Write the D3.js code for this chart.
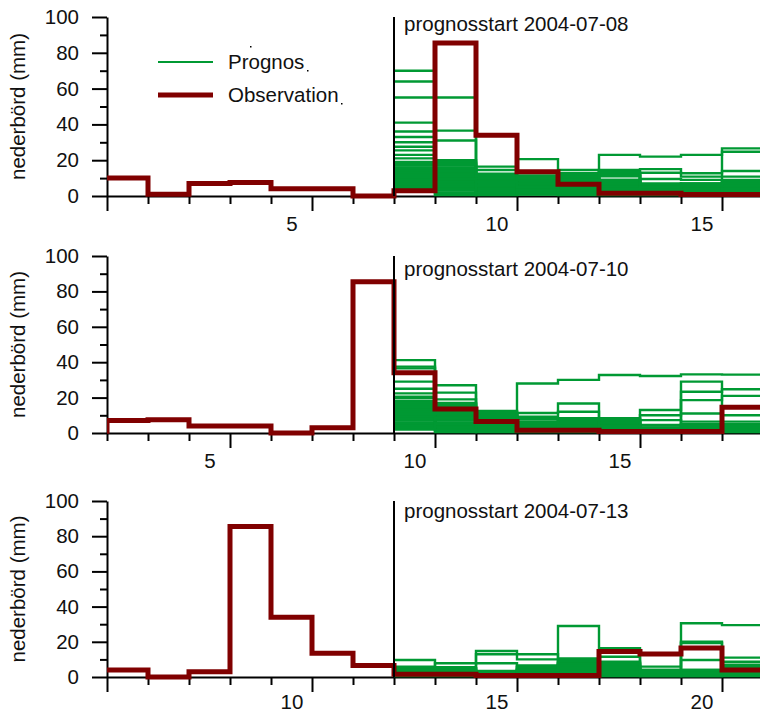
<!DOCTYPE html>
<html>
<head>
<meta charset="utf-8">
<script src="https://cdn.jsdelivr.net/npm/d3@7"></script>
<style>
  body { margin: 0; background: #fff; }
  svg text { font-family: "Liberation Sans", Arial, sans-serif; fill: #111; }
</style>
</head>
<body>
<div id="chart"></div>
<script>
// observed daily precipitation (mm), July 2004, day 1..21
const obsDays = [1, 2, 3, 4, 5, 6, 7, 8, 9, 10, 11, 12, 13, 14, 15, 16, 17, 18, 19, 20, 21];
const obsValues = [10, 1, 7, 7.5, 4, 4, 0, 3, 85.5, 34, 13.5, 6.5, 1.5, 1.5, 0.8, 0.8, 0.8, 14.5, 13, 16.5, 4];

// ensemble members, one row per member, one value per day from forecast start
const ens0708 = [ // days 8..16
  [70, 18, 6, 3, 2, 4, 3, 5, 7],
  [64, 36.5, 10, 5, 3, 12, 6, 4, 5],
  [55, 55, 12, 8, 4, 6, 2, 3, 2],
  [41, 31, 9, 4, 6, 8, 4, 6, 24.7],
  [36, 20, 16.4, 20.6, 14.5, 9, 5, 2, 4],
  [33, 15, 14.5, 11, 12.8, 23, 22, 23, 26.6],
  [30, 13, 8, 6, 5, 14.5, 15, 12.7, 14],
  [27.5, 11, 5, 9, 8, 7, 13, 10.8, 10.8],
  [25.5, 17, 11, 2, 1, 3, 9.5, 9, 9],
  [23, 9, 4, 7, 3, 11, 7, 1, 6],
  [21, 6, 3, 10, 7, 2, 1, 7, 3],
  [19, 16, 7, 1, 9, 13, 2, 5, 8],
  [18, 19, 2, 3, 5, 5, 4, 3, 1],
  [17, 10, 12.5, 11.5, 10, 12, 6, 6, 5],
  [16, 8, 6, 5, 6, 1, 3, 2, 7],
  [15, 14, 1, 4, 2, 9, 5, 4, 2],
  [14, 5, 9, 8, 11, 6, 1, 1, 4],
  [13, 12, 3, 2, 4, 4, 3, 5, 6],
  [12, 7, 10, 6, 1, 8, 2, 3, 3],
  [11, 4, 5, 9, 8, 11.5, 4, 6, 1],
  [10, 18, 2, 1, 3, 3, 6, 7, 5],
  [9, 3, 7, 7, 6, 2, 5, 2, 8],
  [8, 2, 4, 3, 2, 7, 1, 4, 2],
  [7, 1, 1, 1, 1, 1, 2, 1, 3],
  [6, 0.5, 11.5, 10, 12, 5, 3, 3, 6],
  [5, 9.5, 6, 2, 7, 13.5, 4, 2, 4],
  [4, 6.5, 0.5, 4, 0.5, 0.5, 0.5, 0.5, 0.5],
  [3, 3.5, 8, 5, 9, 4, 5, 6, 7]
];

const ens0710 = [ // days 10..18
  [5, 3, 6, 28, 30, 32.8, 32.2, 33.1, 33],
  [41.2, 27, 8, 6, 3, 2, 1, 29, 14.9],
  [37.5, 22.8, 12.4, 4, 2, 4, 2, 23.3, 24.7],
  [36.5, 10, 6, 11.3, 16.7, 5, 13, 18.6, 21],
  [29, 19, 4, 3, 5, 3, 10, 11, 10],
  [25, 15, 10, 9.2, 12, 7, 7.3, 6.4, 6.4],
  [22.4, 17, 11, 7.9, 8.3, 8.4, 4.5, 4, 5],
  [19.6, 12, 2, 2, 6, 6, 3, 2, 3],
  [18, 8, 9, 5, 4, 1, 2, 5, 1],
  [17, 14, 5, 6.5, 7, 8, 1, 3, 4],
  [16, 6, 12, 1, 1, 2, 3, 1, 2],
  [15, 4, 3, 3, 3, 4, 0.5, 4, 5],
  [14, 16, 7, 2, 5, 3, 2, 2, 3],
  [13, 13, 1, 4, 8, 7, 1, 1, 1],
  [12, 9, 10, 5, 2, 6, 2, 3, 4],
  [11, 11, 6, 1, 6, 1, 0.5, 2, 2],
  [10, 7, 9, 3, 4, 5, 1, 5, 5],
  [9, 2, 3, 6, 1, 2, 2, 0.5, 1],
  [8, 5, 11.5, 2, 7, 3, 3, 3, 3],
  [7, 3, 4, 5, 3, 4, 1, 4, 2],
  [6, 1, 8, 4, 2, 7.5, 2, 1, 4],
  [5, 0.5, 2, 1, 5, 1, 0.5, 2, 1],
  [4, 8.5, 7, 3, 4, 6, 1, 3, 3],
  [3, 2, 0.5, 0.5, 0.5, 0.5, 0.5, 0.5, 0.5],
  [2, 5, 5, 2, 1, 3, 2, 1, 2],
  [20.5, 16.5, 9.5, 6, 7.5, 4, 3, 2, 4]
];

const ens0713 = [ // days 13..21
  [9.7, 5.5, 14.8, 10, 29, 16.3, 3, 30.5, 29.5],
  [5.9, 7.8, 12.9, 12.9, 10.6, 11.5, 5.9, 20, 11],
  [3.4, 3, 7.8, 6.2, 8.7, 8.7, 2, 19.3, 8.7],
  [5, 4, 3.4, 5, 9.6, 7, 4, 9.7, 6],
  [4, 2, 2, 4, 8, 6, 1, 3, 5],
  [3, 1, 1, 6, 7, 5, 3, 2, 7],
  [2, 5, 0.5, 3, 6, 8, 2, 4, 4],
  [1, 3.5, 1.5, 2, 5, 4, 1, 1, 3],
  [4.5, 2.5, 1, 1, 4, 3, 3.5, 2, 2],
  [2.5, 1.5, 0.5, 5.5, 3, 2, 2.5, 3, 6.5],
  [1.5, 4.5, 2, 3.5, 2, 1, 1.5, 1, 1],
  [0.5, 0.5, 0.5, 0.5, 0.5, 0.5, 0.5, 0.5, 0.5],
  [5.5, 2, 1.5, 4.5, 1, 5.5, 4, 3.5, 4.5],
  [3.5, 3, 1, 2.5, 7.5, 3.5, 0.5, 1.5, 3.5],
  [2, 1, 0.5, 1.5, 9, 2.5, 1, 2.5, 5.5],
  [1, 4, 2, 6.5, 5.5, 7.5, 2, 4, 2.5],
  [4, 2, 1, 3, 4.5, 4.5, 3, 0.5, 1.5],
  [2.5, 5, 0.5, 4, 6.5, 1.5, 1.5, 2, 3]
];

const firstDays = [1, 3, 6];
const forecastStarts = [8, 10, 13];
const startDates = ["2004-07-08", "2004-07-10", "2004-07-13"];
const ensembles = [ens0708, ens0710, ens0713];
const xLabels = [[5, 10, 15], [5, 10, 15], [10, 15, 20]];
const yTicks = [0, 20, 40, 60, 80, 100];
const yMinor = [10, 30, 50, 70, 90];
const legendNames = ["Prognos", "Observation"];

// layout
const W = 760, H = 713;
const left = 107, dayW = 41, nDays = 16;
const panelTop = [17, 256, 501];
const panelBottom = [196, 433, 677];
const textBase = [31, 276, 518];
const labelPad = [20, 20, 17];
const green = "#009933", red = "#800000";
const fs = 20.5;

const svg = d3.select("#chart").append("svg")
  .attr("width", W).attr("height", H);

svg.append("clipPath").attr("id", "plotclip")
  .append("rect").attr("x", left).attr("y", 0).attr("width", W - left).attr("height", H);

const stepPoints = (start, vals) =>
  vals.map((v, k) => [start + k - 0.5, v]).concat([[start + vals.length - 0.5, vals[vals.length - 1]]]);

const styleAxis = (g) => {
  g.selectAll("path.domain").attr("stroke", "#000").attr("stroke-width", 2);
  g.selectAll(".tick line").attr("stroke", "#000").attr("stroke-width", 2);
  g.selectAll("text").attr("font-size", fs).attr("font-family", null).attr("fill", "#111");
};

ensembles.forEach((ens, i) => {
  const x0 = firstDays[i] - 0.5;
  const x = d3.scaleLinear().domain([x0, x0 + nDays]).range([left, left + nDays * dayW]);
  const y = d3.scaleLinear().domain([0, 100]).range([panelBottom[i], panelTop[i]]);
  const line = d3.line().x(d => x(d[0])).y(d => y(d[1])).curve(d3.curveStepAfter);

  const g = svg.append("g");

  // y axis
  const yMaj = g.append("g").attr("transform", `translate(${left},0)`)
    .call(d3.axisLeft(y).tickValues(yTicks).tickSize(15).tickSizeOuter(0).tickPadding(13));
  styleAxis(yMaj);
  const yMin = g.append("g").attr("transform", `translate(${left},0)`)
    .call(d3.axisLeft(y).tickValues(yMinor).tickSize(7).tickFormat(""));
  yMin.select("path.domain").remove();
  styleAxis(yMin);

  g.append("text")
    .attr("transform", `translate(25,${(panelTop[i] + panelBottom[i]) / 2}) rotate(-90)`)
    .attr("text-anchor", "middle")
    .attr("font-size", fs)
    .text("nederbörd (mm)");

  // x axis: ticks at day boundaries, longer every fifth, labels at day centres
  const halfDays = d3.range(x0, x0 + nDays + 0.01, 1);
  const isMajor = d => Math.abs((d - 0.5) % 5) < 1e-6;
  const xb = g.append("g").attr("transform", `translate(0,${panelBottom[i]})`);
  const xMin = xb.append("g")
    .call(d3.axisBottom(x).tickValues(halfDays.filter(d => !isMajor(d))).tickSize(8).tickSizeOuter(0).tickFormat(""));
  styleAxis(xMin);
  const xMaj = xb.append("g")
    .call(d3.axisBottom(x).tickValues(halfDays.filter(isMajor)).tickSize(15).tickFormat(""));
  xMaj.select("path.domain").remove();
  styleAxis(xMaj);
  const xLab = xb.append("g")
    .call(d3.axisBottom(x).tickValues(xLabels[i]).tickSize(0).tickPadding(labelPad[i]));
  xLab.select("path.domain").remove();
  styleAxis(xLab);

  // data
  const plot = g.append("g").attr("clip-path", "url(#plotclip)");
  plot.selectAll("path.member")
    .data(ens)
    .join("path")
    .attr("class", "member")
    .attr("d", m => line(stepPoints(forecastStarts[i], m)))
    .attr("fill", "none")
    .attr("stroke", green)
    .attr("stroke-width", 2.4);

  const fx = x(forecastStarts[i] - 0.5);
  g.append("line")
    .attr("x1", fx).attr("x2", fx)
    .attr("y1", y(100)).attr("y2", y(0))
    .attr("stroke", "#000").attr("stroke-width", 2);

  plot.append("path")
    .attr("d", line(stepPoints(obsDays[0], obsValues)))
    .attr("fill", "none")
    .attr("stroke", red)
    .attr("stroke-width", 5)
    .attr("stroke-linejoin", "miter");

  g.append("text")
    .attr("x", fx + 10).attr("y", textBase[i])
    .attr("font-size", fs)
    .text("prognosstart " + startDates[i]);

  // legend in first panel
  if (i === 0) {
    const lg = g.append("g");
    const ly = [62, 95];
    legendNames.forEach((name, k) => {
      lg.append("line")
        .attr("x1", 158).attr("x2", 213)
        .attr("y1", ly[k]).attr("y2", ly[k])
        .attr("stroke", k === 0 ? green : red)
        .attr("stroke-width", k === 0 ? 2 : 5);
      lg.append("text")
        .attr("x", 228).attr("y", ly[k])
        .attr("dy", "0.35em")
        .attr("font-size", fs)
        .text(name);
    });
    // small stray marks from the original legend box
    [[250, 46], [307, 70], [341, 103]].forEach(p => {
      lg.append("rect").attr("x", p[0]).attr("y", p[1]).attr("width", 1.5).attr("height", 1.5).attr("fill", "#000");
    });
  }
});
</script>
</body>
</html>
